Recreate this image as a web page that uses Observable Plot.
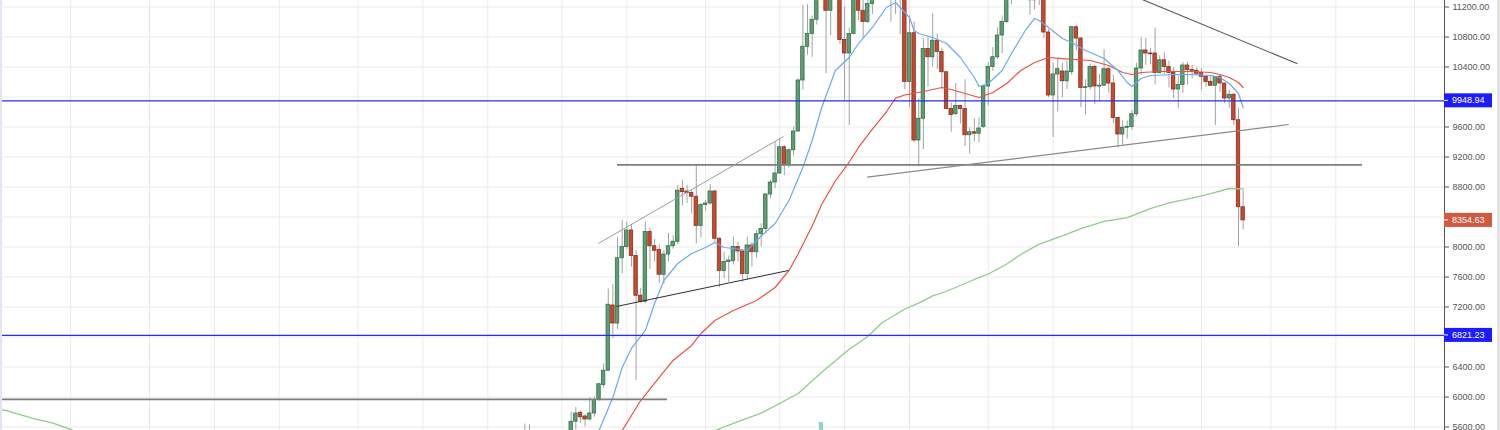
<!DOCTYPE html>
<html><head><meta charset="utf-8">
<script src="https://cdn.jsdelivr.net/npm/d3@7"></script>
<script src="https://cdn.jsdelivr.net/npm/@observablehq/plot@0.6"></script>
<style>
html,body{margin:0;padding:0;background:#fff;}
#wrap{position:relative;width:1500px;height:430px;overflow:hidden;background:#fff;}
#edgeL{position:absolute;left:0;top:0;width:2px;height:430px;background:#e4e4f3;}
#edgeR{position:absolute;right:0;top:0;width:3px;height:430px;background:#e4e4e4;}
</style></head><body>
<div id="wrap"><div id="chart"></div><div id="edgeL"></div><div id="edgeR"></div></div>
<script>
// ---- daily candles ----
const dates = [
"2019-04-23","2019-04-24","2019-04-25","2019-04-26","2019-04-27","2019-04-28","2019-04-29","2019-04-30",
"2019-05-01","2019-05-02","2019-05-03","2019-05-04","2019-05-05","2019-05-06","2019-05-07","2019-05-08","2019-05-09","2019-05-10",
"2019-05-11","2019-05-12","2019-05-13","2019-05-14","2019-05-15","2019-05-16","2019-05-17","2019-05-18","2019-05-19","2019-05-20",
"2019-05-21","2019-05-22","2019-05-23","2019-05-24","2019-05-25","2019-05-26","2019-05-27","2019-05-28","2019-05-29","2019-05-30","2019-05-31",
"2019-06-01","2019-06-02","2019-06-03","2019-06-04","2019-06-05","2019-06-06","2019-06-07","2019-06-08","2019-06-09","2019-06-10",
"2019-06-11","2019-06-12","2019-06-13","2019-06-14","2019-06-15","2019-06-16","2019-06-17","2019-06-18","2019-06-19","2019-06-20",
"2019-06-21","2019-06-22","2019-06-23","2019-06-24","2019-06-25","2019-06-26","2019-06-27","2019-06-28","2019-06-29","2019-06-30",
"2019-07-01","2019-07-02","2019-07-03","2019-07-04","2019-07-05","2019-07-06","2019-07-07","2019-07-08","2019-07-09","2019-07-10",
"2019-07-11","2019-07-12","2019-07-13","2019-07-14","2019-07-15","2019-07-16","2019-07-17","2019-07-18","2019-07-19","2019-07-20",
"2019-07-21","2019-07-22","2019-07-23","2019-07-24","2019-07-25","2019-07-26","2019-07-27","2019-07-28","2019-07-29","2019-07-30","2019-07-31",
"2019-08-01","2019-08-02","2019-08-03","2019-08-04","2019-08-05","2019-08-06","2019-08-07","2019-08-08","2019-08-09","2019-08-10",
"2019-08-11","2019-08-12","2019-08-13","2019-08-14","2019-08-15","2019-08-16","2019-08-17","2019-08-18","2019-08-19","2019-08-20",
"2019-08-21","2019-08-22","2019-08-23","2019-08-24","2019-08-25","2019-08-26","2019-08-27","2019-08-28","2019-08-29","2019-08-30","2019-08-31",
"2019-09-01","2019-09-02","2019-09-03","2019-09-04","2019-09-05","2019-09-06","2019-09-07","2019-09-08","2019-09-09","2019-09-10",
"2019-09-11","2019-09-12","2019-09-13","2019-09-14","2019-09-15","2019-09-16","2019-09-17","2019-09-18","2019-09-19","2019-09-20",
"2019-09-21","2019-09-22","2019-09-23","2019-09-24","2019-09-25"];
const opens = [
5400,5520,5440,5200,5270,5280,5270,5210,
5330,5390,5500,5670,5790,5740,5700,5780,5960,6160,6350,7220,6980,7850,8000,8220,7880,7350,7270,8200,8010,7960,7630,7900,8010,8070,8776,8740,8720,8670,8280,
8560,8580,8740,8110,7680,7800,7810,8000,7940,7640,8020,7930,8170,8240,8700,8860,8980,9330,9090,9290,9540,10220,10670,10840,11030,11750,12930,11150,12380,11880,
10760,10580,10840,11980,11150,11000,11240,11460,12300,12580,12100,11350,11800,11380,10200,10850,9420,9710,10640,10530,10750,10600,10330,9840,9770,9880,9840,9490,9530,9510,9600,
10140,10400,10530,10820,11000,11800,11470,11970,11980,11850,11290,11530,11380,10860,10020,10300,10340,10210,10330,10930,10780,10120,10130,10400,10140,10150,10370,10180,9720,9500,9590,
9600,9770,10380,10620,10580,10580,10320,10490,10400,10320,10100,10160,10420,10360,10350,10320,10270,10200,10150,10270,10180,9980,10030,9690,8530];
const highs = [
5640,5630,5520,5460,5330,5320,5290,5350,
5410,5530,5800,5860,5810,5770,5990,6000,6180,6440,7440,7500,8130,8350,8330,8300,7950,7450,8330,8250,8100,8030,7950,8180,8150,8820,8890,8820,8760,9100,8580,
8620,8830,8760,8120,7930,7880,8130,8060,7960,8130,8060,8220,8310,8710,8890,9400,9440,9350,9310,9600,10240,11220,11230,11080,11780,13880,13450,12460,12390,12180,
11200,10920,12000,12070,11450,11730,11620,12380,12820,13200,12120,11930,11830,11450,11080,11000,9970,10780,10800,11110,10840,10650,10330,9920,10180,9890,10230,9590,9710,9720,10150,
10460,10660,10920,11080,11900,12300,12000,12020,12050,11950,11550,11550,11450,10900,10450,10520,10450,10480,10940,10950,10790,10230,10440,10420,10300,10630,10400,10290,9730,9680,9680,
9820,10450,10790,10780,10650,10920,10550,10590,10480,10390,10280,10460,10460,10420,10390,10380,10280,10290,10250,10300,10180,10090,10050,9850,8760];
const lows = [
5370,5400,5120,5100,5240,5230,5160,5190,
5310,5370,5480,5560,5650,5600,5680,5730,5940,6120,6340,6780,6900,7640,7960,7730,6220,7250,7250,7700,7800,7510,7500,7800,7970,8030,8550,8580,8440,8040,8120,
8480,8560,8060,7460,7580,7530,7760,7800,7530,7560,7730,7850,8000,8180,8640,8780,8970,8950,9050,9210,9530,10090,10560,10530,10960,11670,10310,10820,11340,10700,
9950,9620,10830,11020,10780,10980,11100,11310,12130,11600,11000,11100,10830,10100,9860,9390,9070,9300,10130,10400,10370,10100,9830,9530,9760,9640,9340,9240,9400,9390,9580,
9880,10340,10500,10580,10980,11230,11400,11500,11650,11090,11160,11220,10780,9990,9460,9800,9990,10100,10290,10620,9860,9760,10090,9900,9940,10150,10050,9650,9320,9360,9440,
9560,9740,10290,10420,10430,10160,10310,10300,10120,9980,9850,10050,10160,10240,10280,10090,10130,10140,9620,10060,9910,9850,9620,8000,8230];
const closes = [
5520,5440,5200,5270,5280,5270,5210,5330,
5390,5500,5670,5780,5730,5700,5780,5960,6170,6350,7230,6980,7850,8000,8220,7880,7350,7270,8200,8010,7950,7630,7900,8010,8070,8750,8731,8720,8670,8280,8560,
8580,8740,8110,7680,7800,7820,8000,7940,7640,8020,7930,8170,8240,8700,8860,8980,9330,9090,9290,9540,10220,10670,10840,11030,11750,12930,11150,12380,11880,10760,
10580,10840,11980,11150,11000,11240,11460,12300,12580,12100,11350,11800,11380,10200,10850,9420,9710,10640,10530,10750,10600,10330,9840,9760,9880,9840,9490,9530,9510,9580,10140,
10400,10530,10820,11000,11800,11470,11970,11980,11850,11290,11530,11380,10860,10020,10300,10370,10210,10340,10930,10780,10120,10130,10400,10140,10150,10370,10180,9720,9500,9590,9600,
9770,10380,10620,10580,10570,10320,10490,10400,10320,10100,10160,10420,10360,10350,10310,10270,10200,10150,10270,10180,9980,10030,9690,8530,8354.63];

// ---- moving averages ----
const maFast = [["2019-05-07",5450],["2019-05-09",5553],["2019-05-12",5993],["2019-05-14",6393],["2019-05-16",6647],["2019-05-19",6887],["2019-05-21",7247],["2019-05-23",7553],["2019-05-26",7780],["2019-05-29",7913],["2019-06-01",7993],["2019-06-03",8060],["2019-06-05",7993],["2019-06-07",7980],["2019-06-10",7953],["2019-06-12",8087],["2019-06-16",8313],["2019-06-19",8620],["2019-06-22",9060],["2019-06-24",9420],["2019-06-26",9847],["2019-06-29",10353],["2019-07-02",10527],["2019-07-04",10713],["2019-07-07",10927],["2019-07-10",11193],["2019-07-12",11260],["2019-07-15",11060],["2019-07-16",10887],["2019-07-17",10847],["2019-07-20",10793],["2019-07-23",10713],["2019-07-26",10527],["2019-07-29",10260],["2019-07-30",10140],["2019-08-01",10180],["2019-08-04",10353],["2019-08-06",10580],["2019-08-09",10887],["2019-08-11",11047],["2019-08-12",11020],["2019-08-14",10927],["2019-08-17",10780],["2019-08-19",10727],["2019-08-22",10620],["2019-08-26",10513],["2019-08-29",10353],["2019-08-31",10193],["2019-09-01",10140],["2019-09-03",10247],["2019-09-05",10287],["2019-09-10",10300],["2019-09-14",10300],["2019-09-18",10287],["2019-09-20",10260],["2019-09-22",10180],["2019-09-24",10047],["2019-09-25",9860]];
const maMid = [["2019-05-11",5450],["2019-05-14",5553],["2019-05-18",5953],["2019-05-22",6260],["2019-05-25",6487],["2019-05-29",6687],["2019-05-31",6847],["2019-06-03",7020],["2019-06-07",7153],["2019-06-12",7287],["2019-06-16",7460],["2019-06-19",7687],["2019-06-21",7910],["2019-06-24",8280],["2019-06-26",8560],["2019-06-29",8880],["2019-07-02",9133],["2019-07-04",9327],["2019-07-07",9573],["2019-07-10",9800],["2019-07-12",9985],["2019-07-14",10027],["2019-07-17",10060],["2019-07-20",10100],["2019-07-22",10127],["2019-07-24",10100],["2019-07-27",10047],["2019-07-30",9993],["2019-08-02",10060],["2019-08-05",10180],["2019-08-08",10353],["2019-08-11",10460],["2019-08-14",10527],["2019-08-17",10513],["2019-08-23",10487],["2019-08-27",10420],["2019-08-30",10327],["2019-09-01",10300],["2019-09-03",10327],["2019-09-07",10340],["2019-09-14",10340],["2019-09-18",10327],["2019-09-20",10300],["2019-09-22",10260],["2019-09-24",10193],["2019-09-25",10127]];
const maSlowEarly = [["2018-12-30",5840],["2019-01-01",5820],["2019-01-07",5713],["2019-01-11",5656],["2019-01-15",5567],["2019-01-19",5473]];
const maSlow = [["2019-05-29",5480],["2019-06-03",5553],["2019-06-08",5673],["2019-06-13",5784],["2019-06-21",6047],["2019-06-26",6327],["2019-07-02",6637],["2019-07-04",6720],["2019-07-06",6807],["2019-07-09",6987],["2019-07-14",7173],["2019-07-17",7252],["2019-07-20",7348],["2019-07-23",7410],["2019-07-29",7567],["2019-08-01",7640],["2019-08-05",7773],["2019-08-08",7900],["2019-08-12",8039],["2019-08-17",8149],["2019-08-21",8244],["2019-08-26",8343],["2019-08-31",8393],["2019-09-05",8513],["2019-09-09",8587],["2019-09-14",8652],["2019-09-18",8713],["2019-09-22",8780],["2019-09-25",8775]];

// ---- drawn levels and trend lines ----
const levelLines = [9948.94, 6821.23];
const flatLines = [{value: 5967, from: "2018-12-30", to: "2019-05-23T19:00Z"}, {value: 9096, from: "2019-05-13", to: "2019-10-20T18:00Z"}];
const channelUpper = [{from: "2019-05-08T21:20Z", fromValue: 8047, to: "2019-06-17T19:30Z", toValue: 9473}];
const channelLower = [{from: "2019-05-12T19:00Z", fromValue: 7207, to: "2019-06-18T21:40Z", toValue: 7687}];
const supportLine = [{from: "2019-07-05T21:00Z", fromValue: 8931, to: "2019-10-04T20:24Z", toValue: 9633}];
const resistanceLine = [{from: "2019-08-29T13:00Z", fromValue: 11420, to: "2019-10-06T17:30Z", toValue: 10443}];
const volumeSpikes = [{date: "2019-06-26", top: 5660}];

// ---- axis / grid ----
const gridPrices = [5600,6000,6400,6800,7200,7600,8000,8400,8800,9200,9600,10000,10400,10800,11200];
const tickPrices = [5600,6000,6400,7200,7600,8000,8800,9200,9600,10400,10800,11200];
const gridDates = ["2019-01-15","2019-02-01","2019-02-15","2019-03-01","2019-03-18","2019-04-01","2019-04-15","2019-05-01","2019-05-15","2019-06-01","2019-06-17","2019-07-01","2019-07-15","2019-08-01","2019-08-15","2019-09-01","2019-09-16","2019-10-01","2019-10-15","2019-11-01"];

const DAY = 864e5;
const bodyHalf = 0.37 * DAY;
const candles = dates.map((d, i) => ({date: new Date(d), open: opens[i], high: highs[i], low: lows[i], close: closes[i]}));
const up = candles.filter(d => d.close >= d.open);
const down = candles.filter(d => d.close < d.open);
const pts = arr => arr.map(([t, v]) => ({date: new Date(t), value: v}));
const yDomain = [5553.3, 11286.7];
const xDomain = [new Date("2018-12-30T20:20Z"), new Date("2019-11-07T10:56Z")];
const W = 1500, MR = 56;
const linkOpts = (stroke, sw) => ({x1: d => new Date(d.from), y1: "fromValue", x2: d => new Date(d.to), y2: "toValue", stroke, strokeWidth: sw, clip: true});

const plot = Plot.plot({
  width: W, height: 430,
  marginTop: 0, marginBottom: 0, marginLeft: 0, marginRight: MR,
  style: {background: "transparent", color: "#555", fontFamily: "'Liberation Sans', Arial, sans-serif", fontSize: "9px"},
  x: {type: "utc", domain: xDomain, axis: null},
  y: {domain: yDomain, axis: "right", ticks: tickPrices, tickFormat: d => d.toFixed(2), tickSize: 4, tickPadding: 4, label: null, line: true},
  marks: [
    Plot.ruleY(gridPrices, {stroke: "#ebebeb"}),
    Plot.ruleX(gridDates.map(d => new Date(d)), {stroke: "#ebebeb"}),
    Plot.rect(volumeSpikes, {x1: d => new Date(+new Date(d.date) - 0.45 * DAY), x2: d => new Date(+new Date(d.date) + 0.45 * DAY), y1: () => yDomain[0] - 100, y2: "top", fill: "#92d2c8", clip: true}),
    Plot.ruleX(candles, {x: "date", y1: "low", y2: "high", stroke: "#a2a2a2", strokeWidth: 1, clip: true}),
    Plot.rect(up, {x1: d => new Date(+d.date - bodyHalf), x2: d => new Date(+d.date + bodyHalf), y1: "open", y2: "close", fill: "#5f9d72", stroke: "#33704a", strokeWidth: 0.8, clip: true}),
    Plot.rect(down, {x1: d => new Date(+d.date - bodyHalf), x2: d => new Date(+d.date + bodyHalf), y1: "open", y2: "close", fill: "#c9482f", stroke: "#86301d", strokeWidth: 0.8, clip: true}),
    Plot.line(pts(maSlowEarly), {x: "date", y: "value", stroke: "#94c990", strokeWidth: 1.3, clip: true}),
    Plot.line(pts(maSlow), {x: "date", y: "value", stroke: "#94c990", strokeWidth: 1.3, clip: true}),
    Plot.line(pts(maMid), {x: "date", y: "value", stroke: "#e2544c", strokeWidth: 1.2, clip: true}),
    Plot.line(pts(maFast), {x: "date", y: "value", stroke: "#6da8ef", strokeWidth: 1.2, clip: true}),
    Plot.ruleY(flatLines, {y: "value", x1: d => new Date(d.from), x2: d => new Date(d.to), stroke: "#7d7d7d", strokeWidth: 1.8, clip: true}),
    Plot.link(channelUpper, linkOpts("#9c9c9c", 1)),
    Plot.link(channelLower, linkOpts("#2e2e2e", 1)),
    Plot.link(supportLine, linkOpts("#8a8a8a", 1.2)),
    Plot.link(resistanceLine, linkOpts("#555555", 1.1)),
    Plot.ruleY(levelLines, {stroke: "#2a2aff", strokeWidth: 1.2})
  ]
});
document.getElementById("chart").appendChild(plot);

// price badges on the right axis, positioned through Plot's y scale
const ys = plot.scale("y");
const yPos = ys.apply ? (v => ys.apply(v)) : d3.scaleLinear(ys.domain, ys.range);
const badges = [
  {value: levelLines[0], fill: "#1c1cff"},
  {value: closes[closes.length - 1], fill: "#d0593e"},
  {value: levelLines[1], fill: "#1c1cff"}
];
const svg = d3.select(plot);
const g = svg.append("g").attr("text-anchor", "start");
const x0 = W - MR;
badges.forEach(b => {
  const y = yPos(b.value);
  g.append("rect").attr("x", x0).attr("y", y - 7).attr("width", 48).attr("height", 14).attr("fill", b.fill);
  g.append("line").attr("x1", x0).attr("x2", x0 + 4).attr("y1", y).attr("y2", y).attr("stroke", "#fff");
  g.append("text").attr("x", x0 + 8).attr("y", y).attr("dy", "0.35em").attr("fill", "#fff")
    .attr("text-anchor", "start")
    .attr("font-family", "'Liberation Sans', Arial, sans-serif").attr("font-size", 9).text(b.value.toFixed(2));
});
</script>
</body></html>
